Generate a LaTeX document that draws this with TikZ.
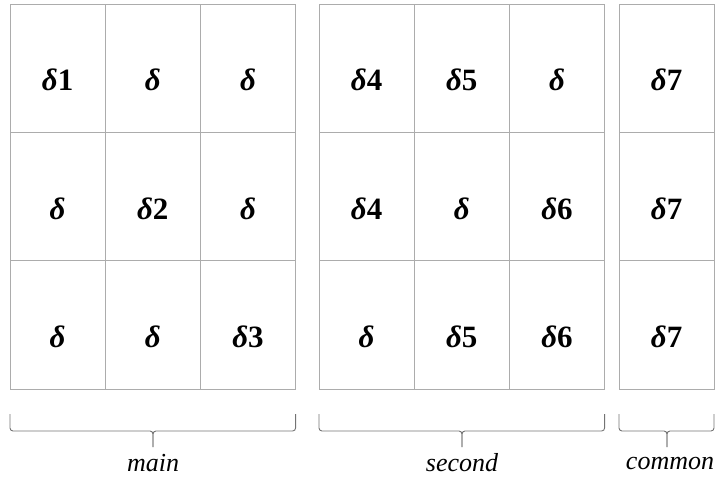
\documentclass[tikz,border=0pt]{standalone}
\usepackage{fontspec}
\setmainfont{Liberation Serif}
\begin{document}
\begin{tikzpicture}[x=1pt,y=-1pt,
  cell/.style={draw=gray!65,line width=0.8pt,minimum width=95.2pt,minimum height=128.3pt,inner sep=0pt},
  val/.style={font=\fontsize{31}{33}\selectfont\bfseries},
  tag/.style={font=\fontsize{26}{28}\selectfont\itshape},
  brace/.style={draw=gray!90!black,line width=0.9pt,rounded corners=3pt}]
\useasboundingbox (0,0) rectangle (726,480);

% main block
\foreach \r/\c/\t in {1/1/\textit{δ}1,1/2/\textit{δ},1/3/\textit{δ},
    2/1/\textit{δ},2/2/\textit{δ}2,2/3/\textit{δ},
    3/1/\textit{δ},3/2/\textit{δ},3/3/\textit{δ}3}{
  \node[cell] (main-\r-\c) at ({10+95.2*(\c-0.5)},{4+128.3*(\r-0.5)}) {};
  \node[val] (main-\r-\c-t) at ([yshift=-12pt]main-\r-\c.center) {\t};
}

% second block
\foreach \r/\c/\t in {1/1/\textit{δ}4,1/2/\textit{δ}5,1/3/\textit{δ},
    2/1/\textit{δ}4,2/2/\textit{δ},2/3/\textit{δ}6,
    3/1/\textit{δ},3/2/\textit{δ}5,3/3/\textit{δ}6}{
  \node[cell] (sec-\r-\c) at ({319+95.2*(\c-0.5)},{4+128.3*(\r-0.5)}) {};
  \node[val] (sec-\r-\c-t) at ([yshift=-12pt]sec-\r-\c.center) {\t};
}

% common block
\foreach \r in {1,2,3}{
  \node[cell] (com-\r) at (666.6,{4+128.3*(\r-0.5)}) {};
  \node[val] (com-\r-t) at ([yshift=-12pt]com-\r.center) {\textit{δ}7};
}

% braces
\coordinate (mainL) at (10,414);   \coordinate (mainR) at (295.6,414);  \coordinate (mainM) at (153,447);
\coordinate (secL) at (319,414);   \coordinate (secR) at (604.6,414);   \coordinate (secM) at (462,447);
\coordinate (comL) at (619,414);   \coordinate (comR) at (714,414);     \coordinate (comM) at (667,447);
\foreach \b in {main,sec,com}{
  \draw[brace] (\b L) |- ([yshift=16pt]\b M) -- (\b M);
  \draw[brace] (\b R) |- ([yshift=16pt]\b M) -- (\b M);
}

\node[tag] (mainlab) at (153,463) {main};
\node[tag] (seclab) at (462,463) {second};
\node[tag] (comlab) at (670,463) {common};
\end{tikzpicture}
\end{document}
